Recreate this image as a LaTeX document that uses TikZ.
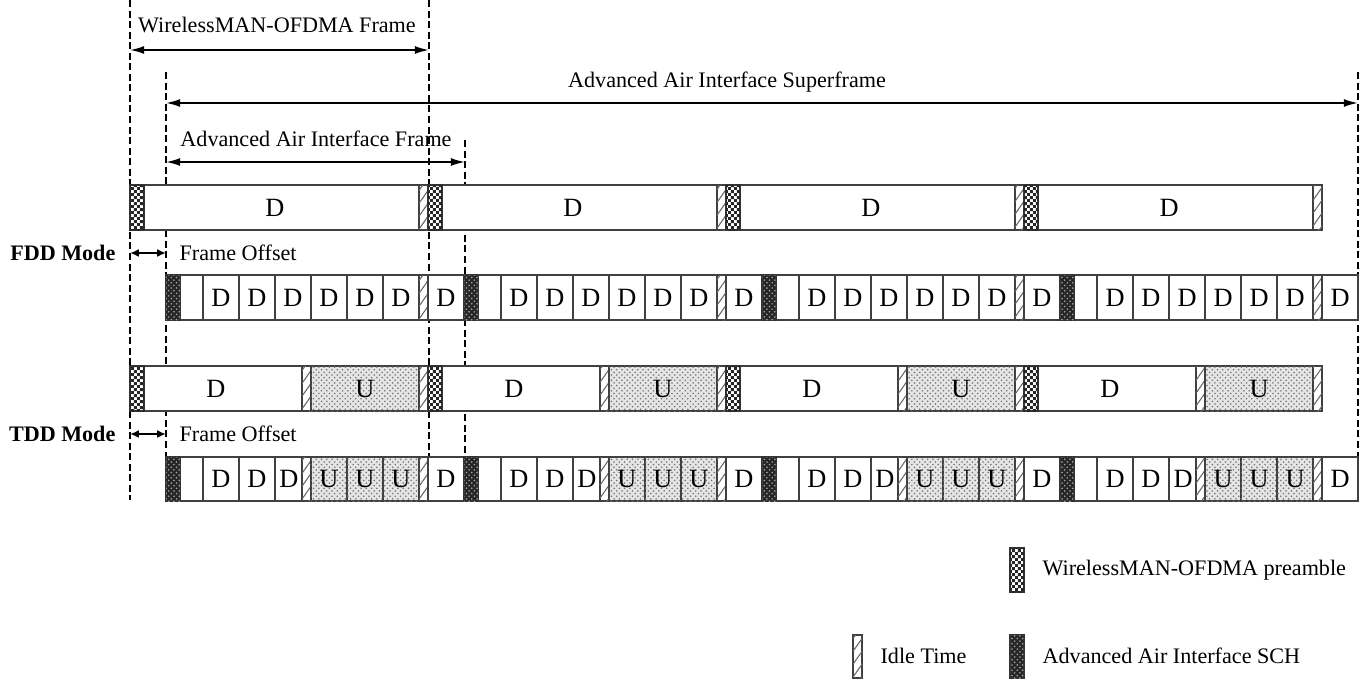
\documentclass[tikz,border=0pt]{standalone}
\usepackage{fontspec}
\setmainfont{Liberation Serif}
\usetikzlibrary{arrows.meta,patterns,patterns.meta}

\pgfdeclarepatternformonly{finechecker}{\pgfpointorigin}{\pgfqpoint{3.4pt}{3.4pt}}{\pgfqpoint{3.4pt}{3.4pt}}{
  \pgfpathrectangle{\pgfpointorigin}{\pgfqpoint{1.7pt}{1.7pt}}
  \pgfpathrectangle{\pgfqpoint{1.7pt}{1.7pt}}{\pgfqpoint{1.7pt}{1.7pt}}
  \pgfusepath{fill}}

\begin{document}
\begin{tikzpicture}[
  x=0.02cm, y=-0.02cm, line width=0.7pt,
  lbl/.style={font=\fontsize{12.6}{15}\selectfont, inner sep=0pt},
  mode/.style={font=\fontsize{12.6}{15}\selectfont\bfseries, inner sep=0pt},
  sym/.style={font=\fontsize{15}{18}\selectfont, inner sep=0pt},
  slot/.style={draw=black!75, fill=white},
  pre/.style={draw=black!80, fill=white, postaction={pattern=finechecker, pattern color=black!85}},
  sch/.style={draw=black!80, fill=black!85, postaction={pattern=crosshatch dots, pattern color=black!35}},
  idle/.style={draw=black!75, fill=white, postaction={pattern={Lines[angle=55,distance=4.2pt,line width=0.6pt]}, pattern color=black!60}},
  upl/.style={draw=black!75, fill=black!10, postaction={pattern=crosshatch dots, pattern color=black!55}},
  guide/.style={line width=1pt, dash pattern=on 4pt off 2pt},
  dim/.style={{Latex[length=8pt,width=4.5pt]}-{Latex[length=8pt,width=4.5pt]}, line width=1pt},
  offs/.style={{Latex[length=5pt,width=4.5pt]}-{Latex[length=5pt,width=4.5pt]}, line width=1pt},
]
\useasboundingbox (0,0) rectangle (1372,686);

% guide lines
\draw[guide] (130,0) -- (130,500);
\draw[guide] (166,72) -- (166,457);
\draw[guide] (429,0) -- (429,457);
\draw[guide] (465,140) -- (465,457);
\draw[guide] (1358,72) -- (1358,457);

% durations
\coordinate (wmL) at (130,50);
\coordinate (wmR) at (429,50);
\draw[dim] (wmL) -- (wmR);
\node[lbl] (wmT) at (277,25) {WirelessMAN-OFDMA Frame};
\coordinate (sfL) at (166,103);
\coordinate (sfR) at (1358,103);
\draw[dim] (sfL) -- (sfR);
\node[lbl] (sfT) at (727,82) {Advanced Air Interface Superframe};
\coordinate (afL) at (166,162);
\coordinate (afR) at (465,162);
\draw[dim] (afL) -- (afR);
\node[lbl] (afT) at (316,139) {Advanced Air Interface Frame};

% modes and offsets
\node[mode, anchor=east] (fdd) at (116,253) {FDD Mode};
\coordinate (foL) at (130,253);
\coordinate (foR) at (166,253);
\draw[offs] (foL) -- (foR);
\node[lbl, anchor=west] (foT) at (179,253) {Frame Offset};
\node[mode, anchor=east] (tdd) at (116,434) {TDD Mode};
\coordinate (toL) at (130,434);
\coordinate (toR) at (166,434);
\draw[offs] (toL) -- (toR);
\node[lbl, anchor=west] (toT) at (179,434) {Frame Offset};

% WirelessMAN-OFDMA frames
\foreach \k in {0,...,3}{
  \begin{scope}[shift={(130+298*\k,0)}]
    \draw[slot] (0,185) rectangle (298,230);
    \draw[pre] (0,185) rectangle (14,230);
    \draw[idle] (289,185) rectangle (298,230);
    \node[sym] (fw\k) at (145,207.5) {D};
    \draw[slot] (0,366) rectangle (181,411);
    \draw[pre] (0,366) rectangle (14,411);
    \draw[idle] (172,366) rectangle (181,411);
    \draw[upl] (181,366) rectangle (289,411);
    \draw[idle] (289,366) rectangle (298,411);
    \node[sym] (tw\k) at (86,388.5) {D};
    \node[sym] (twu\k) at (235,388.5) {U};
  \end{scope}
}

% Advanced Air Interface frames
\foreach \k in {0,...,3}{
  \begin{scope}[shift={(166+298*\k,0)}]
    % FDD
    \draw[slot] (0,275) rectangle (37,320);
    \draw[sch] (0,275) rectangle (14,320);
    \foreach \i in {0,...,5}{
      \draw[slot] ({37+36*\i},275) rectangle ++(36,45);
      \node[sym] (fa\k\i) at ({55+36*\i},297.5) {D};
    }
    \draw[idle] (253,275) rectangle (262,320);
    \draw[slot] (262,275) rectangle (298,320);
    \node[sym] (fa\k l) at (280,297.5) {D};
    % TDD
    \draw[slot] (0,457) rectangle (37,501);
    \draw[sch] (0,457) rectangle (14,501);
    \draw[slot] (37,457) rectangle (73,501);
    \draw[slot] (73,457) rectangle (109,501);
    \draw[slot] (109,457) rectangle (136,501);
    \node[sym] (ta\k a) at (55,479) {D};
    \node[sym] (ta\k b) at (91,479) {D};
    \node[sym] (ta\k c) at (123,479) {D};
    \draw[idle] (136,457) rectangle (145,501);
    \foreach \i in {0,1,2}{
      \draw[upl] ({145+36*\i},457) rectangle ++(36,44);
      \node[sym] (tu\k\i) at ({163+36*\i},479) {U};
    }
    \draw[idle] (253,457) rectangle (262,501);
    \draw[slot] (262,457) rectangle (298,501);
    \node[sym] (ta\k l) at (280,479) {D};
  \end{scope}
}

% legend
\draw[pre] (1010,548) rectangle (1024,592);
\node[lbl, anchor=west] (lgPre) at (1042,570) {WirelessMAN-OFDMA preamble};
\draw[idle] (853,635) rectangle (862,678);
\node[lbl, anchor=west] (lgIdle) at (880,656) {Idle Time};
\draw[sch] (1010,635) rectangle (1024,678);
\node[lbl, anchor=west] (lgSch) at (1042,656) {Advanced Air Interface SCH};
\end{tikzpicture}
\end{document}
